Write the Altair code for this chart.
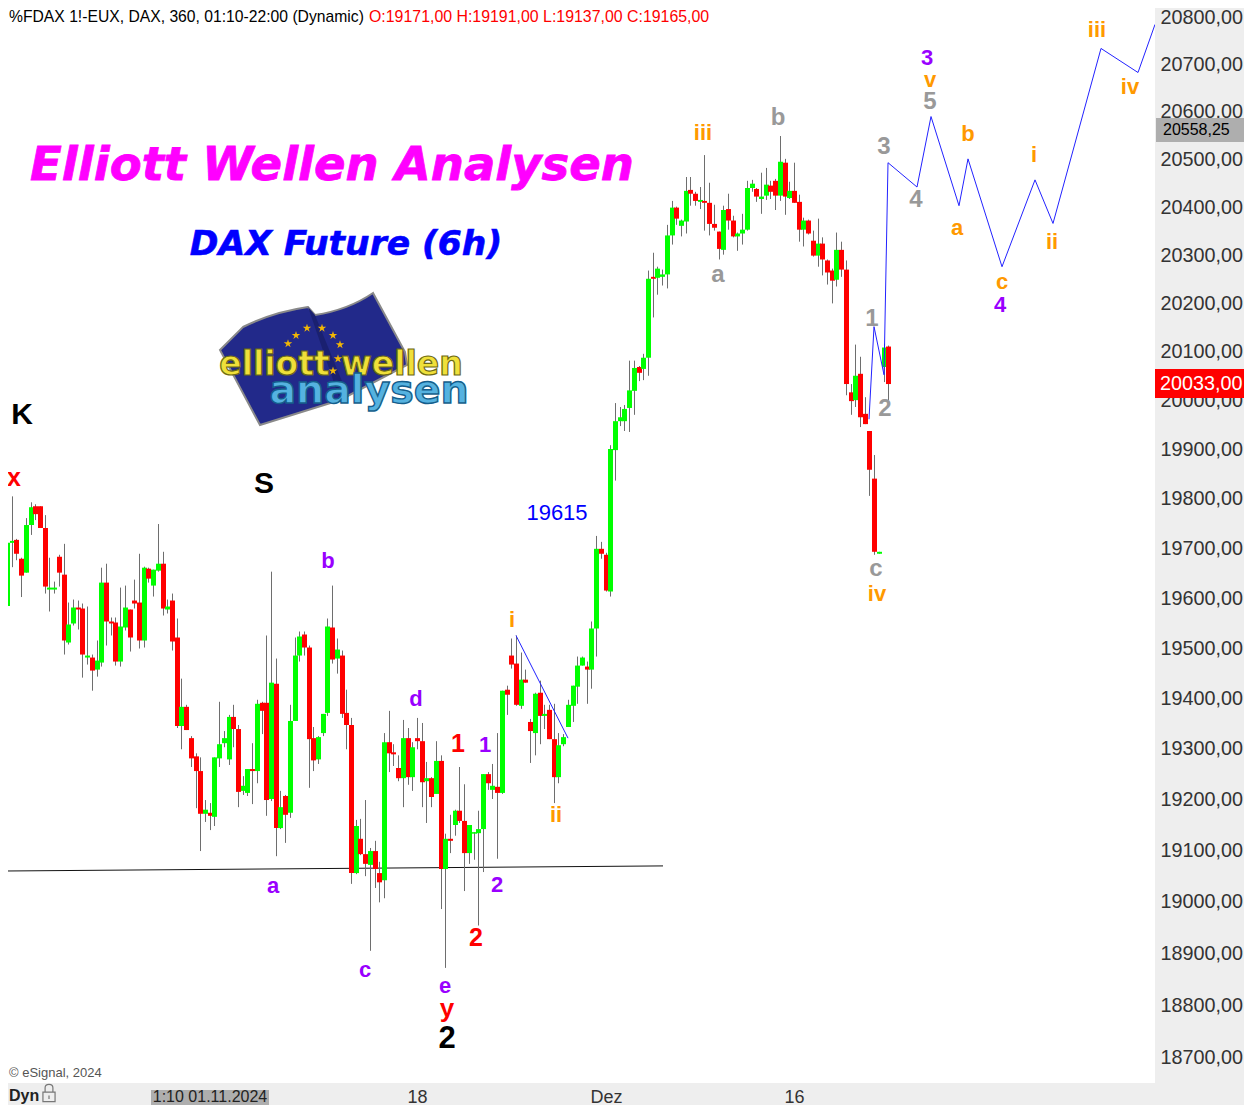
import altair as alt
import pandas as pd

FONT = "Liberation Sans"

opens = [19588,19583,19710,19716,19678,19650,19746,19784,19784,19740,
19616,19616,19682,19646,19510,19548,19580,19578,19480,19480,
19456,19470,19630,19552,19550,19472,19540,19576,19594,19590,
19514,19658,19624,19654,19668,19576,19594,19520,19344,19382,
19320,19284,19255,19171,19173,19165,19280,19310,19278,19362,
19338,19216,19212,19259,19255,19390,19390,19200,19428,19143,
19206,19173,19354,19484,19526,19500,19320,19278,19330,19370,
19540,19478,19484,19370,19346,19055,19122,19092,19071,19098,
19055,19041,19312,19292,19261,19241,19320,19243,19320,19314,
19235,19241,19210,19275,19063,19122,19149,19177,19157,19094,
19132,19133,19141,19249,19218,19224,19212,19416,19484,19468,
19384,19436,19352,19330,19410,19364,19376,19318,19243,19308,
19342,19384,19422,19464,19462,19456,19538,19698,19686,19612,
19898,19957,19957,19984,20019,20068,20064,20087,20254,20252,
20254,20259,20340,20398,20360,20369,20435,20427,20410,20412,
20408,20364,20348,20310,20395,20371,20338,20344,20352,20439,
20437,20416,20423,20444,20454,20423,20492,20418,20433,20410,
20352,20371,20329,20298,20323,20288,20267,20248,20310,20269,
20016,20000,20054,19972,19937,19840,19688,20068,20110]

closes = [19581,19710,19714,19688,19644,19746,19782,19768,19740,19622,
19620,19620,19650,19514,19546,19580,19576,19486,19484,19454,
19474,19630,19552,19548,19472,19542,19580,19520,19588,19514,
19660,19638,19656,19668,19578,19582,19512,19344,19382,19336,
19280,19255,19171,19179,19167,19282,19308,19320,19362,19338,
19214,19226,19259,19255,19388,19374,19198,19430,19143,19184,
19169,19354,19484,19522,19500,19318,19276,19322,19368,19542,
19476,19496,19368,19346,19055,19147,19092,19073,19098,19063,
19037,19312,19290,19288,19241,19320,19243,19302,19314,19233,
19241,19204,19275,19063,19122,19118,19177,19157,19094,19149,
19135,19141,19249,19231,19226,19212,19414,19406,19466,19386,
19436,19430,19334,19408,19364,19368,19318,19243,19306,19322,
19386,19424,19464,19480,19456,19538,19698,19688,19614,19900,
19957,19965,19982,20020,20066,20056,20087,20250,20250,20271,
20259,20340,20398,20375,20371,20433,20427,20412,20414,20408,
20364,20356,20312,20393,20371,20338,20344,20352,20439,20448,
20421,20421,20446,20431,20423,20494,20421,20433,20408,20352,
20371,20344,20298,20323,20290,20263,20246,20310,20269,20033,
19998,20050,19965,19951,19858,19692,19692,20108,20033]

highs = [19618,19732,19804,19718,19680,19760,19792,19788,19784,19766,
19680,19632,19686,19708,19590,19596,19594,19588,19582,19486,
19514,19660,19668,19560,19560,19620,19624,19576,19636,19688,
19662,19660,19656,19748,19692,19596,19608,19558,19438,19386,
19324,19290,19282,19198,19192,19282,19392,19334,19366,19386,
19346,19245,19259,19310,19396,19392,19524,19652,19478,19216,
19208,19386,19520,19532,19532,19504,19342,19324,19368,19558,
19624,19518,19494,19416,19360,19159,19161,19198,19104,19118,
19077,19330,19374,19308,19286,19356,19340,19312,19360,19350,
19273,19243,19314,19286,19132,19169,19179,19263,19229,19149,
19135,19177,19249,19253,19269,19330,19414,19424,19518,19524,
19490,19456,19358,19410,19434,19386,19386,19388,19330,19328,
19396,19424,19482,19482,19472,19552,19724,19712,19690,19908,
19994,19986,19990,20081,20081,20070,20095,20267,20304,20275,
20269,20362,20412,20400,20373,20462,20462,20431,20441,20508,
20450,20404,20348,20402,20427,20381,20346,20385,20454,20456,
20439,20471,20481,20454,20458,20548,20500,20452,20492,20425,
20377,20373,20350,20375,20336,20290,20271,20346,20327,20288,
20033,20114,20089,20006,19937,19888,19692,20116,20112]

lows = [19563,19576,19661,19675,19601,19650,19726,19756,19740,19608,
19572,19608,19622,19486,19506,19544,19536,19440,19466,19414,
19442,19462,19504,19524,19464,19462,19534,19492,19578,19498,
19500,19630,19602,19652,19564,19568,19494,19340,19298,19336,
19263,19182,19098,19155,19139,19147,19263,19302,19267,19302,
19184,19208,19206,19190,19231,19328,19167,19196,19088,19141,
19114,19163,19354,19472,19484,19222,19255,19269,19324,19364,
19468,19448,19360,19298,19034,19053,19090,19049,18904,19026,
18998,19006,19253,19265,19235,19184,19228,19216,19298,19184,
19153,19184,19210,18985,18871,19094,19128,19153,19020,19073,
19081,18953,19057,19218,19200,19083,19210,19366,19458,19384,
19378,19430,19271,19286,19308,19338,19318,19192,19231,19304,
19342,19352,19388,19464,19388,19418,19482,19678,19612,19602,
19836,19947,19937,19935,19970,20039,20041,20050,20170,20217,
20236,20230,20321,20362,20338,20344,20402,20402,20395,20350,
20340,20350,20290,20300,20352,20336,20308,20321,20350,20431,
20410,20385,20414,20416,20393,20412,20383,20416,20408,20327,
20317,20342,20296,20275,20257,20238,20199,20234,20254,20010,
19970,19986,19945,19951,19805,19686,19688,20037,20000]

price_ticks = [20800,20700,20600,20500,20400,20300,20200,20100,20000,19900,19800,
               19700,19600,19500,19400,19300,19200,19100,19000,18900,18800,18700]
date_ticks = {88: "18", 128: "Dez", 168: "16"}

forecast_bar = [183.9,185.0,187.1,187.9,194.1,197.1,203.0,204.9,212.1,219.1,222.9,233.1,241.0,244.6]
forecast_price = [19961,20151,20052,20492,20441,20589,20402,20500,20275,20456,20365,20733,20682,20784]
channel_bar = [109.1,120.1]
channel_price = [19524,19320]
support_bar = [0,140.2]
support_price = [19059,19069]

purple = (["b","a","c","d","e","1","2","3","4"],
          [69.1,57.4,76.9,87.8,93.9,102.4,105.0,196.2,211.7],
          [19674,19030,18867,19398,18837,19306,19031,20712,20195])
orange = (["i","ii","iii","iv","v","a","b","c","i","ii","iii","iv"],
          [108.2,117.5,148.7,185.6,196.9,202.6,204.9,212.1,218.9,222.7,232.3,239.3],
          [19556,19169,20555,19608,20667,20356,20553,20244,20508,20327,20773,20651])
grey = (["a","b","c","1","2","3","4","5"],
        [151.9,164.6,185.4,184.5,187.3,187.1,193.9,196.9],
        [20257,20585,19658,20167,19982,20524,20413,20619])
red = (["x","1","2"], [2.5,96.7,100.5], [19842,19309,18928])
red_y = (["y"], [94.4], [18792])
black = (["K","S"], [4.2,55.5], [19970,19830])
black_2 = (["2"], [94.4], [18734])
blue_note = (["19615"], [117.7], [19770])
star_bar = [62.3,64.7,67.8,70.2,71.7,60.6,71.2,70.2]
star_price = [20133,20148,20148,20133,20114,20116,20085,20060]

n = len(opens)
df = pd.DataFrame({"i": list(range(n)), "o": opens, "h": highs, "l": lows, "c": closes})
df["dir"] = ["up" if c >= o else "down" for o, c in zip(opens, closes)]
one = pd.DataFrame({"k": [0]})

x_scale = alt.Scale(domain=[1.203, 244.6], nice=False, zero=False, round=True)
y_scale = alt.Scale(type="log", domain=[18650, 20819], nice=False, zero=False)

label_expr = " : ".join(f"datum.value == {k} ? '{v}'" for k, v in date_ticks.items()) + " : ''"
x_axis = alt.Axis(values=list(date_ticks), labelExpr=label_expr, grid=False, ticks=False, domain=False,
                  title=None, labelFont=FONT, labelFontSize=18, labelColor="#333333", labelPadding=5)
y_axis = alt.Axis(orient="right", values=price_ticks, labelExpr="format(datum.value,'d') + ',00'", grid=False,
                  ticks=False, domain=False, title=None, labelFont=FONT, labelFontSize=19.8, labelColor="#333333",
                  labelPadding=5, labelOverlap=False, labelFlush=False, labelBaseline="middle", labelOffset=0.5)

def X(f="i"):
    return alt.X(f"{f}:Q", scale=x_scale, axis=x_axis)
def Y(f):
    return alt.Y(f"{f}:Q", scale=y_scale, axis=y_axis)

wicks = alt.Chart(df).mark_rule(color="#6E6E6E", strokeWidth=1, clip=True, xOffset=0.5).encode(
    x=X(), y=Y("l"), y2="h:Q")
bodies = alt.Chart(df).mark_rule(strokeWidth=5, clip=True, xOffset=0.5).encode(
    x=X(), y=Y("o"), y2="c:Q",
    color=alt.Color("dir:N", scale=alt.Scale(domain=["up", "down"], range=["#00FF00", "#FF0000"]), legend=None))

def path(bars, prices, color, width=1):
    d = pd.DataFrame({"b": bars, "p": prices})
    return alt.Chart(d).mark_line(color=color, strokeWidth=width, clip=True).encode(x=X("b"), y=Y("p"))

def labels(group, color, size, weight="bold"):
    d = pd.DataFrame({"t": group[0], "b": group[1], "p": group[2]})
    return alt.Chart(d).mark_text(color=color, fontSize=size, fontWeight=weight, font=FONT, align="center",
                                  baseline="middle").encode(x=X("b"), y=Y("p"), text="t:N")

def ctext(text, px, py, color="#000000", size=16, align="left", font=FONT, **kw):
    return alt.Chart(one).mark_text(text=text, color=color, fontSize=size, align=align, baseline="middle",
                                    font=font, **kw).encode(x=alt.value(px - 8), y=alt.value(py - 8))

def crect(x0, x1, y0, y1, color):
    return alt.Chart(one).mark_rect(color=color).encode(
        x=alt.value(x0 - 8), x2=alt.value(x1 - 8), y=alt.value(y0 - 8), y2=alt.value(y1 - 8))

def cshape(shape, px, py, size, **kw):
    return alt.Chart(one).mark_point(shape=shape, size=size, opacity=1, **kw).encode(
        x=alt.value(px - 8), y=alt.value(py - 8))

flag = ("M-0.93,-0.10 L-0.70,-0.33 Q-0.40,-0.48 -0.05,-0.53 L0.02,-0.45 Q0.35,-0.50 0.60,-0.67 "
        "L0.92,-0.08 L0.94,0.05 L0.27,0.40 L-0.53,0.65 Z")
fold = ("M-0.05,-0.53 L0.02,-0.45 L0.35,0.36 L0.27,0.40 Z")
lock = ("M-0.7,-0.1 L0.7,-0.1 L0.7,1 L-0.7,1 Z M-0.45,-0.1 L-0.45,-0.6 Q-0.45,-1 0,-1 Q0.45,-1 0.45,-0.6 L0.45,-0.1 "
        "M0,0.3 L0,0.7")
star = ("M0,-1 L0.22,-0.31 L0.95,-0.31 L0.36,0.12 L0.59,0.81 L0,0.38 L-0.59,0.81 L-0.36,0.12 L-0.95,-0.31 L-0.22,-0.31 Z")

stars = alt.Chart(pd.DataFrame({"b": star_bar, "p": star_price})).mark_point(
    shape=star, filled=True, color="#F2B705", size=80, opacity=1).encode(x=X("b"), y=Y("p"))

layers = [
    path(support_bar, support_price, "#111111"),
    wicks, bodies,
    path(forecast_bar, forecast_price, "#2222FF"),
    path(channel_bar, channel_price, "#2222FF"),
    labels(purple, "#9900FF", 22), labels(orange, "#FF9900", 22), labels(grey, "#999999", 24),
    labels(red, "#FF0000", 25), labels(red_y, "#FF0000", 26), labels(black, "#000000", 30),
    labels(black_2, "#000000", 31), labels(blue_note, "#0000FF", 22, "normal"),
    ctext("Elliott Wellen Analysen", 332, 166, "#FF00FF", 46.5, "center", "DejaVu Sans", fontWeight="bold",
          fontStyle="italic", stroke="#FF00FF", strokeWidth=0.8),
    ctext("DAX Future (6h)", 346, 245, "#0000FF", 34.5, "center", "DejaVu Sans", fontWeight="bold",
          fontStyle="italic", stroke="#0000FF", strokeWidth=0.6),
    cshape(flag, 313, 360, 40000, filled=True, fill="#22298A", stroke="#8A8A8A", strokeWidth=2),
    cshape(fold, 313, 360, 40000, filled=True, fill="#1A2070"),
    stars,
    ctext("elliott wellen", 341, 365, "#EFE03A", 33, "center", "DejaVu Sans", fontWeight="bold",
          stroke="#6E6A14", strokeWidth=1.2),
    ctext("analysen", 369, 391, "#55B2E0", 39.5, "center", "DejaVu Sans", fontWeight="bold",
          stroke="#145E8C", strokeWidth=1.4),
    ctext("%FDAX 1!-EUX, DAX, 360, 01:10-22:00 (Dynamic)", 9, 17, "#000000", 15.7),
    ctext("O:19171,00 H:19191,00 L:19137,00 C:19165,00", 369, 17, "#FF0000", 15.9),
    ctext("\u00a9 eSignal, 2024", 9, 1073, "#555555", 13),
    crect(1156, 1252, 118, 142, "#AEAEAE"),
    ctext("20558,25", 1163, 130, "#000000", 16),
    crect(1155, 1252, 369, 398, "#FF0000"),
    ctext("20033,00", 1160, 384, "#FFFFFF", 19.8),
    crect(151, 269, 1090, 1105, "#AEAEAE"),
    ctext("1:10 01.11.2024", 210, 1097, "#222222", 16, "center"),
    ctext("Dyn", 9, 1096, "#222222", 16, "left", fontWeight="bold"),
    cshape(lock, 49, 1093, 300, filled=False, stroke="#777777", strokeWidth=1.2),
]

chart = alt.layer(*layers).resolve_scale(color="independent").properties(
    width=1147, height=1075, background="#EEEEEE",
    padding={"left": 0, "top": 0, "right": 89, "bottom": 22},
    autosize=alt.AutoSizeParams(type="none"),
).configure_view(fill="#FFFFFF", strokeWidth=0)

chart.save("out.html", embed_options={"renderer": "svg", "actions": False})
